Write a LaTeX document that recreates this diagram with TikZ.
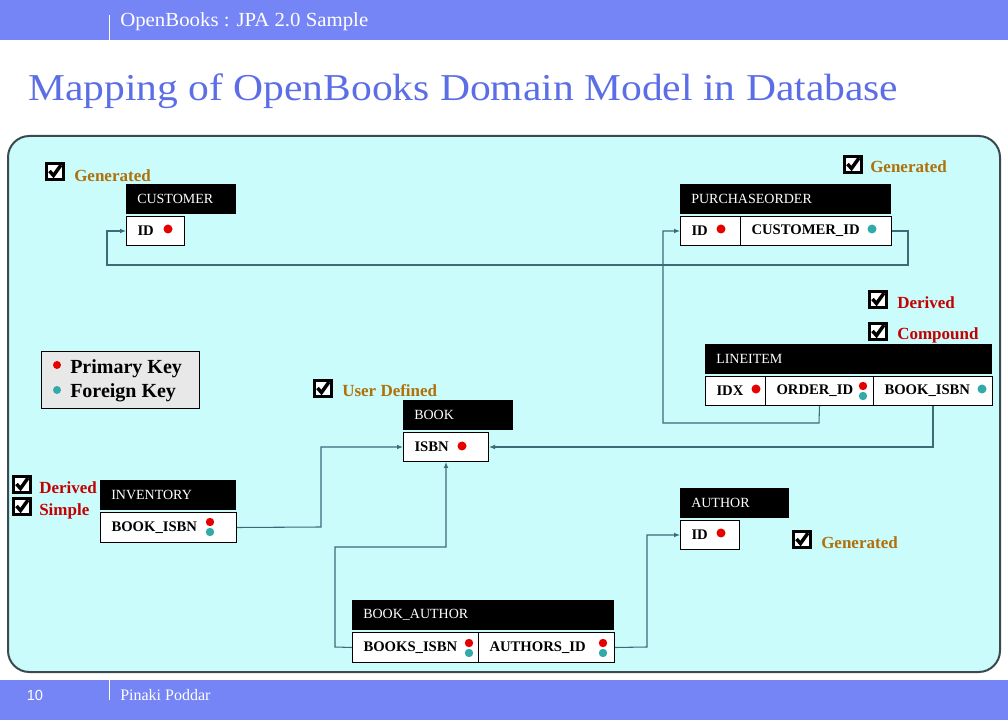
\documentclass[tikz,border=0pt]{standalone}
\usepackage{fontspec}
\setmainfont{Liberation Serif}
\newfontfamily\numfont{Liberation Sans}
\usetikzlibrary{arrows.meta}
\definecolor{barblue}{HTML}{7585F5}
\definecolor{panelfill}{HTML}{CAFCFC}
\definecolor{panelline}{HTML}{3A4A50}
\definecolor{titleblue}{HTML}{5C6EE6}
\definecolor{connline}{HTML}{3F6B78}
\definecolor{pkred}{HTML}{E60000}
\definecolor{fkteal}{HTML}{33AAAA}
\definecolor{genbrown}{HTML}{B0700A}
\definecolor{dervred}{HTML}{C40000}
\definecolor{legendgray}{HTML}{E8E8E8}
\begin{document}
\begin{tikzpicture}[x=0.75pt,y=-0.75pt,
  cellw/.code={\pgfmathsetlengthmacro\cw{#1*0.75pt}\pgfmathsetlengthmacro\tw{(#1-22)*0.75pt}\tikzset{minimum width=\cw,text width=\tw}},
  hdr/.style={fill=black,text=white,anchor=north west,minimum height=22pt,inner xsep=8.25pt,inner ysep=0pt,align=left,font=\fontsize{10.5}{12}\selectfont},
  cell/.style={draw=black,line width=0.75pt,fill=white,anchor=north west,minimum height=21.75pt,inner xsep=8.25pt,inner ysep=0pt,align=left,font=\bfseries\fontsize{11}{12}\selectfont},
  conn/.style={draw=connline,line width=0.8pt,-{Latex[length=4.5pt,width=3.6pt]},rounded corners=0pt},
  genlbl/.style={anchor=west,inner sep=0pt,text=genbrown,font=\bfseries\fontsize{12.75}{14}\selectfont},
  derlbl/.style={anchor=west,inner sep=0pt,text=dervred,font=\bfseries\fontsize{12.75}{14}\selectfont},
  chkbox/.pic={
    \filldraw[fill=white,draw=black,line width=2.2pt] (1.5,1.5) rectangle (18.5,17.5);
    \draw[line width=2.6pt] (4.5,9) -- (8.5,13.5) -- (16,3);
  }]
\useasboundingbox (0,0) rectangle (1008,720);

% header and footer bars
\fill[barblue] (0,0) rectangle (1008,40);
\draw[white,line width=0.9pt] (109.5,15) -- (109.5,40);
\node[anchor=base west,inner sep=0pt,text=white] (toptitle) at (120,27)
  {\resizebox{186pt}{\height}{\fontsize{15}{18}\selectfont OpenBooks : JPA 2.0 Sample}};
\fill[barblue] (0,680) rectangle (1008,720);
\draw[white,line width=0.9pt] (109.5,680) -- (109.5,700);
\node[inner sep=0pt,text=white,font=\numfont\fontsize{11}{12}\selectfont] (pageno) at (35,695) {10};
\node[anchor=base west,inner sep=0pt,text=white,font=\fontsize{12}{14}\selectfont] (author) at (120,700) {Pinaki Poddar};

% slide title
\node[anchor=base west,inner sep=0pt,text=titleblue] (title) at (28,101)
  {\resizebox{652.5pt}{\height}{\fontsize{28.5}{32}\selectfont Mapping of OpenBooks Domain Model in Database}};

% panel
\draw[panelline,line width=1.5pt,fill=panelfill,rounded corners=16pt] (8,136) rectangle (1000,672);

% CUSTOMER
\node[hdr,cellw=110] (custh) at (126,184) {CUSTOMER};
\node[cell,cellw=58] (custid) at (126,216) {ID};
\fill[pkred] (168,229) circle[radius=4.5];

% PURCHASEORDER
\node[hdr,cellw=211] (poh) at (680,184) {PURCHASEORDER};
\node[cell,cellw=60] (poid) at (680,216) {ID};
\node[cell,cellw=151] (pocid) at (740,216) {CUSTOMER\_ID};
\fill[pkred] (721,229) circle[radius=4.5];
\fill[fkteal] (872,229) circle[radius=4.5];

% LINEITEM
\node[hdr,cellw=287] (lih) at (705,344) {LINEITEM};
\node[cell,cellw=60] (liidx) at (705,376) {IDX};
\node[cell,cellw=108] (lioid) at (765,376) {ORDER\_ID};
\node[cell,cellw=119] (libisbn) at (873,376) {BOOK\_ISBN};
\fill[pkred] (756,389) circle[radius=4.5];
\fill[pkred] (863,386) circle[radius=4.2];
\fill[fkteal] (863,396) circle[radius=4.2];
\fill[fkteal] (982,389) circle[radius=4.5];

% BOOK
\node[hdr,cellw=110,minimum height=22.5pt] (bookh) at (403,400) {BOOK};
\node[cell,cellw=85] (bisbn) at (403,432) {ISBN};
\fill[pkred] (462,446) circle[radius=4.5];

% INVENTORY
\node[hdr,cellw=136] (invh) at (100,480) {INVENTORY};
\node[cell,cellw=136,minimum height=22.5pt] (invisbn) at (100,512) {BOOK\_ISBN};
\fill[pkred] (210,522) circle[radius=4.2];
\fill[fkteal] (210,532) circle[radius=4.2];

% AUTHOR
\node[hdr,cellw=109] (authh) at (680,488) {AUTHOR};
\node[cell,cellw=59] (authid) at (680,520) {ID};
\fill[pkred] (721,533) circle[radius=4.5];

% BOOK_AUTHOR
\node[hdr,cellw=262,minimum height=22.5pt] (bah) at (352,600) {BOOK\_AUTHOR};
\node[cell,cellw=126,minimum height=22.5pt] (babisbn) at (352,632) {BOOKS\_ISBN};
\node[cell,cellw=136,minimum height=22.5pt] (baaid) at (478,632) {AUTHORS\_ID};
\fill[pkred] (469,643) circle[radius=4.2];
\fill[fkteal] (469,653) circle[radius=4.2];
\fill[pkred] (603,643) circle[radius=4.2];
\fill[fkteal] (603,653) circle[radius=4.2];

% foreign key connectors
\draw[conn] (pocid.east) -- (908,231) -- (908,265) -- (107,265) |- (custid.west);
\draw[conn] (lioid.south) -- (819,423) -- (663,423) |- (poid.west);
\draw[conn] (libisbn.south) |- (bisbn.east);
\draw[conn] (invisbn.east) -- (321,527) |- (bisbn.west);
\draw[conn] (babisbn.west) -- (335,647) -- (335,547) -| (bisbn.south);
\draw[conn] (baaid.east) -- (647,647) |- (authid.west);

% legend
\node[draw=black,line width=0.75pt,fill=legendgray,anchor=north west,minimum width=118.5pt,minimum height=42.75pt] (legend) at (41,351) {};
\fill[pkred] (57,365) circle[radius=4];
\fill[fkteal] (57,390) circle[radius=4];
\node[anchor=west,inner sep=0pt,font=\bfseries\fontsize{15}{16}\selectfont] (pklbl) at (70,369) {Primary Key};
\node[anchor=west,inner sep=0pt,font=\bfseries\fontsize{15}{16}\selectfont] (fklbl) at (70,393) {Foreign Key};

% check boxes and their labels
\pic at (45,162) {chkbox};
\node[genlbl] (gen1) at (74,176) {Generated};
\pic at (843,155) {chkbox};
\node[genlbl] (gen2) at (870,167) {Generated};
\pic at (868,290) {chkbox};
\node[derlbl] (der1) at (897,303) {Derived};
\pic at (868,322) {chkbox};
\node[derlbl] (cmp) at (897,335) {Compound};
\pic at (313,379) {chkbox};
\node[genlbl] (usr) at (342,391) {User Defined};
\pic at (12,475) {chkbox};
\node[derlbl] (der2) at (39,488) {Derived};
\pic at (12,497) {chkbox};
\node[derlbl] (smp) at (39,511) {Simple};
\pic at (792,530) {chkbox};
\node[genlbl] (gen3) at (821,543) {Generated};
\end{tikzpicture}
\end{document}
